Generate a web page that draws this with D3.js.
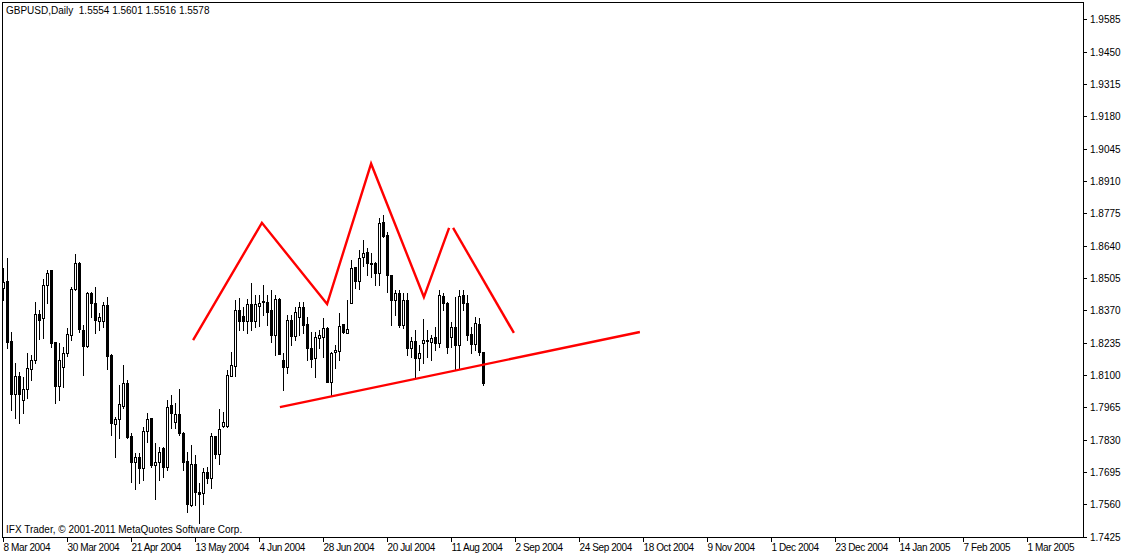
<!DOCTYPE html>
<html><head><meta charset="utf-8">
<script src="https://cdn.jsdelivr.net/npm/d3@7"></script>
<style>html,body{margin:0;padding:0;background:#fff;}svg{display:block;}</style>
</head><body>
<svg id="c" width="1121" height="555"></svg>
<script>
// ---- data (daily GBPUSD bars, bar index 0 = 8 Mar 2004) ----
const opens = [1.8461,1.8492,1.8242,1.8022,1.8095,1.7995,1.8039,1.8123,1.8162,1.8353,
1.8336,1.8475,1.8538,1.8237,1.8053,1.8131,1.8190,1.8266,1.8457,1.8566,
1.8287,1.8221,1.8440,1.8399,1.8326,1.8326,1.8392,1.8183,1.7894,1.7915,
1.7971,1.8065,1.7845,1.7737,1.7756,1.7710,1.7867,1.7918,1.7722,1.7735,
1.7793,1.7714,1.7974,1.7902,1.7937,1.7858,1.7741,1.7557,1.7727,1.7610,
1.7605,1.7693,1.7668,1.7845,1.7769,1.7888,1.7888,1.8095,1.8138,1.8371,
1.8346,1.8326,1.8395,1.8326,1.8388,1.8403,1.8406,1.8371,1.8266,1.8417,
1.8162,1.8134,1.8329,1.8262,1.8343,1.8382,1.8312,1.8211,1.8169,1.8254,
1.8259,1.8297,1.8071,1.8194,1.8201,1.8312,1.8276,1.8401,1.8549,1.8493,
1.8593,1.8614,1.8569,1.8566,1.8524,1.8740,1.8684,1.8517,1.8413,1.8440,
1.8308,1.8413,1.8214,1.8242,1.8169,1.8234,1.8243,1.8239,1.8259,1.8232,
1.8429,1.8399,1.8259,1.8299,1.8225,1.8433,1.8399,1.8272,1.8229,1.8314,
1.8194];
const highs = [1.8545,1.8587,1.8280,1.8148,1.8113,1.8092,1.8190,1.8183,1.8406,1.8371,
1.8499,1.8538,1.8538,1.8238,1.8232,1.8218,1.8294,1.8468,1.8605,1.8573,
1.8308,1.8447,1.8447,1.8468,1.8357,1.8406,1.8426,1.8187,1.7925,1.8058,
1.8141,1.8078,1.7856,1.7772,1.7772,1.7884,1.7939,1.7918,1.7814,1.7800,
1.7800,1.7995,1.8016,1.7981,1.8040,1.7863,1.7779,1.7807,1.7765,1.7647,
1.7710,1.7714,1.7858,1.7845,1.7956,1.7946,1.8120,1.8197,1.8413,1.8420,
1.8385,1.8416,1.8482,1.8433,1.8433,1.8475,1.8433,1.8454,1.8433,1.8420,
1.8190,1.8350,1.8350,1.8385,1.8406,1.8406,1.8343,1.8280,1.8280,1.8287,
1.8336,1.8301,1.8197,1.8225,1.8357,1.8312,1.8413,1.8580,1.8552,1.8622,
1.8664,1.8629,1.8608,1.8573,1.8754,1.8768,1.8698,1.8517,1.8454,1.8454,
1.8441,1.8441,1.8259,1.8287,1.8225,1.8332,1.8287,1.8266,1.8301,1.8454,
1.8441,1.8406,1.8322,1.8426,1.8454,1.8454,1.8433,1.8301,1.8343,1.8336,
1.8197];
const lows = [1.8413,1.8211,1.7953,1.7918,1.7900,1.7939,1.8002,1.8078,1.8148,1.8248,
1.8252,1.8399,1.8218,1.7984,1.7995,1.8050,1.8179,1.8245,1.8454,1.8280,
1.8099,1.8217,1.8343,1.8276,1.8287,1.8301,1.8123,1.7849,1.7758,1.7835,
1.7960,1.7838,1.7654,1.7622,1.7647,1.7660,1.7821,1.7716,1.7580,1.7660,
1.7675,1.7702,1.7877,1.7877,1.7849,1.7702,1.7528,1.7552,1.7557,1.7480,
1.7561,1.7647,1.7626,1.7752,1.7728,1.7884,1.7884,1.8095,1.8095,1.8287,
1.8287,1.8274,1.8287,1.8301,1.8304,1.8350,1.8308,1.8238,1.8183,1.8187,
1.8036,1.8107,1.8225,1.8245,1.8266,1.8274,1.8162,1.8134,1.8092,1.8211,
1.8176,1.8071,1.8012,1.8128,1.8162,1.8274,1.8276,1.8399,1.8461,1.8457,
1.8555,1.8517,1.8510,1.8475,1.8475,1.8677,1.8447,1.8308,1.8350,1.8301,
1.8296,1.8183,1.8176,1.8086,1.8120,1.8148,1.8176,1.8162,1.8204,1.8218,
1.8371,1.8190,1.8218,1.8120,1.8124,1.8371,1.8245,1.8190,1.8204,1.8183,
1.8058];
const closes = [1.8489,1.8238,1.8022,1.8095,1.8022,1.8039,1.8127,1.8162,1.8353,1.8329,
1.8475,1.8527,1.8234,1.8053,1.8162,1.8190,1.8269,1.8458,1.8566,1.8291,
1.8221,1.8440,1.8399,1.8329,1.8343,1.8392,1.8179,1.7898,1.7916,1.7978,
1.8065,1.7842,1.7737,1.7756,1.7710,1.7867,1.7914,1.7723,1.7735,1.7779,
1.7714,1.7967,1.7939,1.7937,1.7858,1.7737,1.7561,1.7728,1.7612,1.7602,
1.7693,1.7668,1.7845,1.7769,1.7873,1.7904,1.8099,1.8141,1.8371,1.8326,
1.8325,1.8395,1.8326,1.8395,1.8399,1.8410,1.8364,1.8266,1.8416,1.8187,
1.8134,1.8329,1.8262,1.8364,1.8382,1.8308,1.8211,1.8165,1.8259,1.8265,
1.8294,1.8071,1.8190,1.8204,1.8304,1.8280,1.8290,1.8545,1.8493,1.8587,
1.8610,1.8566,1.8563,1.8524,1.8733,1.8680,1.8517,1.8413,1.8440,1.8308,
1.8413,1.8211,1.8242,1.8169,1.8190,1.8245,1.8245,1.8255,1.8234,1.8433,
1.8401,1.8218,1.8299,1.8225,1.8429,1.8402,1.8266,1.8229,1.8317,1.8194,
1.8065];

// axis tick labels
const priceTicks = [1.7425,1.7560,1.7695,1.7830,1.7965,1.8100,1.8235,1.8370,1.8505,1.8640,1.8775,1.8910,1.9045,1.9180,1.9315,1.9450,1.9585];
const dateTickBars = [0,16,32,48,64,80,96,112,128,144,160,176,192,208,224,240,256];
const dateTickLabels = ["8 Mar 2004","30 Mar 2004","21 Apr 2004","13 May 2004","4 Jun 2004","28 Jun 2004","20 Jul 2004","11 Aug 2004","2 Sep 2004","24 Sep 2004","18 Oct 2004","9 Nov 2004","1 Dec 2004","23 Dec 2004","14 Jan 2005","7 Feb 2005","1 Mar 2005"];

// drawn objects (bar index, price)
const patternBars1 = [47.4,64.6,80.9,91.9,105.1,111.4];
const patternPrices1 = [1.8245,1.8735,1.8396,1.8982,1.8425,1.8714];
const patternBars2 = [112.4,127.6];
const patternPrices2 = [1.8714,1.8275];
const necklineBars = [69.1,159.1];
const necklinePrices = [1.7965,1.8279];

const headerText = "GBPUSD,Daily  1.5554 1.5601 1.5516 1.5578";
const footerText = "IFX Trader, \u00A9 2001-2011 MetaQuotes Software Corp.";

// ---- drawing ----
const svg = d3.select("#c");
const FONT = "'Liberation Sans', Arial, sans-serif";
const L = 2, T = 2, R = 1083, B = 537;

const x = d3.scaleLinear().domain([0, 270]).range([3.5, 3.5 + 270 * 4]);
const y = d3.scaleLinear().domain([1.7425, 1.9585]).range([536.5, 19.3]);

svg.append("rect").attr("x", 0).attr("y", 0).attr("width", 1121).attr("height", 555).attr("fill", "#fff");

const plot = svg.append("g");
plot.append("defs").append("clipPath").attr("id", "clip")
  .append("rect").attr("x", L + 1).attr("y", T + 1).attr("width", R - L - 1).attr("height", B - T - 1);

const g = plot.append("g").attr("clip-path", "url(#clip)");

const bars = d3.range(opens.length).map(i => ({i, o: opens[i], h: highs[i], l: lows[i], c: closes[i]}));
const px = v => Math.round(y(v));

// wicks
g.selectAll("line.wick").data(bars).join("line")
  .attr("x1", d => Math.floor(x(d.i)) + 0.5).attr("x2", d => Math.floor(x(d.i)) + 0.5)
  .attr("y1", d => px(d.h)).attr("y2", d => px(d.l) + 1)
  .attr("stroke", "#000").attr("stroke-width", 1).attr("shape-rendering", "crispEdges");

// bodies
g.selectAll("rect.body").data(bars).join("rect")
  .attr("x", d => Math.floor(x(d.i)) - 1 + 0.5)
  .attr("y", d => px(Math.max(d.o, d.c)) + 0.5)
  .attr("width", 2)
  .attr("height", d => Math.max(0, px(Math.min(d.o, d.c)) - px(Math.max(d.o, d.c))))
  .attr("fill", d => d.c >= d.o ? "#fff" : "#000")
  .attr("stroke", "#000").attr("stroke-width", 1).attr("shape-rendering", "crispEdges");

// red pattern lines
const lineGen = d3.line().x(d => x(d[0])).y(d => y(d[1]));
const red = "#ff0000";
g.append("path").attr("d", lineGen(patternBars1.map((b, k) => [b, patternPrices1[k]])))
  .attr("fill", "none").attr("stroke", red).attr("stroke-width", 2.4).attr("stroke-linejoin", "miter");
g.append("path").attr("d", lineGen(patternBars2.map((b, k) => [b, patternPrices2[k]])))
  .attr("fill", "none").attr("stroke", red).attr("stroke-width", 2.4);
g.append("path").attr("d", lineGen(necklineBars.map((b, k) => [b, necklinePrices[k]])))
  .attr("fill", "none").attr("stroke", red).attr("stroke-width", 2.4);

// frame
svg.append("rect").attr("x", L + 0.5).attr("y", T + 0.5).attr("width", R - L).attr("height", B - T)
  .attr("fill", "none").attr("stroke", "#000").attr("stroke-width", 1).attr("shape-rendering", "crispEdges");

// price axis
const yAxis = svg.append("g");
priceTicks.forEach(p => {
  const yy = Math.round(y(p));
  yAxis.append("line").attr("x1", R).attr("x2", R + 4).attr("y1", yy + 0.5).attr("y2", yy + 0.5)
    .attr("stroke", "#000").attr("shape-rendering", "crispEdges");
  yAxis.append("text").attr("x", R + 7).attr("y", yy + 4).text(p.toFixed(4))
    .attr("font-family", FONT).attr("font-size", 10).attr("fill", "#000");
});

// date axis
const xAxis = svg.append("g");
dateTickBars.forEach((b, k) => {
  const xx = Math.floor(x(b)) + 0.5;
  xAxis.append("line").attr("x1", xx).attr("x2", xx).attr("y1", B).attr("y2", B + 5)
    .attr("stroke", "#000").attr("shape-rendering", "crispEdges");
  xAxis.append("text").attr("x", xx).attr("y", B + 14).text(dateTickLabels[k])
    .attr("font-family", FONT).attr("font-size", 10).attr("letter-spacing", -0.4).attr("fill", "#000");
});

svg.append("text").attr("x", 6).attr("y", 14).text(headerText).attr("xml:space", "preserve")
  .style("white-space", "pre")
  .attr("font-family", FONT).attr("font-size", 10).attr("fill", "#000");
svg.append("text").attr("x", 6).attr("y", 533).text(footerText)
  .attr("font-family", FONT).attr("font-size", 10).attr("fill", "#000");
</script>
</body></html>
